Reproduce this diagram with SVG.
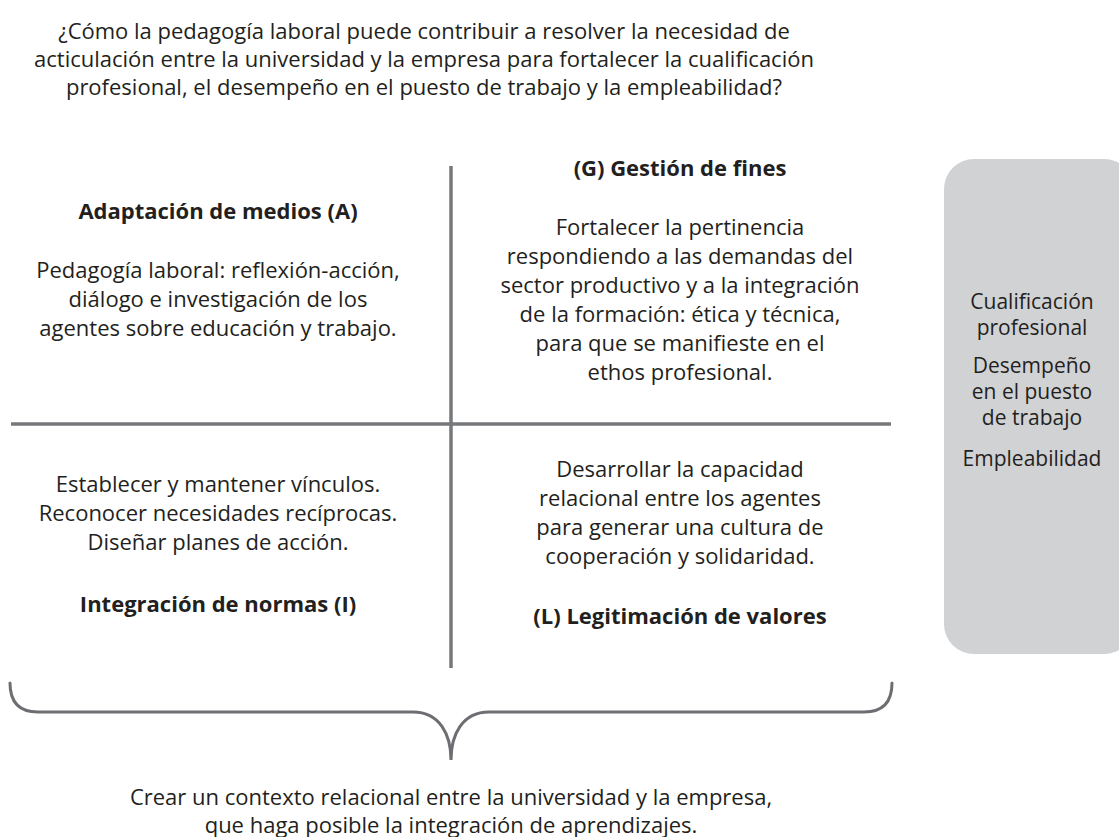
<svg xmlns="http://www.w3.org/2000/svg" width="1119" height="837" viewBox="0 0 1119 837">
<style>
text{font-family:"Open Sans","Noto Sans","Liberation Sans",sans-serif;font-size:22px;fill:#231f20;text-anchor:middle}
.b{font-weight:bold}
.s{font-size:21px}
.ln{stroke:#77787b;stroke-width:3.5;fill:none}
.br{stroke:#6d6e71;stroke-width:3;fill:none;stroke-linecap:round}
</style>
<rect width="1119" height="837" fill="#ffffff"/>
<g id="title">
<text x="424" y="39">¿Cómo la pedagogía laboral puede contribuir a resolver la necesidad de</text>
<text x="424" y="67">acticulación entre la universidad y la empresa para fortalecer la cualificación</text>
<text x="424" y="95">profesional, el desempeño en el puesto de trabajo y la empleabilidad?</text>
</g>
<g id="connectors">
<line class="ln" x1="451" y1="166" x2="451" y2="668"/>
<line class="ln" x1="11" y1="424" x2="891" y2="424"/>
<path class="br" d="M10,683 Q10,712 38,712 L413,712 C440,712 451,735 451,760 C451,735 462,712 489,712 L864,712 Q892,712 892,683"/>
</g>
<g id="quad-A">
<text class="b" x="218" y="219">Adaptación de medios (A)</text>
<text x="218" y="278">Pedagogía laboral: reflexión-acción,</text>
<text x="218" y="307">diálogo e investigación de los</text>
<text x="218" y="336">agentes sobre educación y trabajo.</text>
</g>
<g id="quad-G">
<text class="b" x="680" y="176">(G) Gestión de fines</text>
<text x="680" y="235">Fortalecer la pertinencia</text>
<text x="680" y="264">respondiendo a las demandas del</text>
<text x="680" y="293">sector productivo y a la integración</text>
<text x="680" y="322">de la formación: ética y técnica,</text>
<text x="680" y="351">para que se manifieste en el</text>
<text x="680" y="380">ethos profesional.</text>
</g>
<g id="quad-I">
<text x="218" y="492">Establecer y mantener vínculos.</text>
<text x="218" y="521">Reconocer necesidades recíprocas.</text>
<text x="218" y="550">Diseñar planes de acción.</text>
<text class="b" x="218" y="612">Integración de normas (I)</text>
</g>
<g id="quad-L">
<text x="680" y="477">Desarrollar la capacidad</text>
<text x="680" y="506">relacional entre los agentes</text>
<text x="680" y="535">para generar una cultura de</text>
<text x="680" y="564">cooperación y solidaridad.</text>
<text class="b" x="680" y="624">(L) Legitimación de valores</text>
</g>
<g id="outcomes">
<rect x="944" y="159" width="190" height="495" rx="30" fill="#d1d2d4"/>
<text class="s" x="1032" y="309">Cualificación</text>
<text class="s" x="1032" y="335">profesional</text>
<text class="s" x="1032" y="373">Desempeño</text>
<text class="s" x="1032" y="399">en el puesto</text>
<text class="s" x="1032" y="425">de trabajo</text>
<text class="s" x="1032" y="466">Empleabilidad</text>
</g>
<g id="conclusion">
<text x="451" y="805">Crear un contexto relacional entre la universidad y la empresa,</text>
<text x="451" y="833">que haga posible la integración de aprendizajes.</text>
</g>
</svg>
